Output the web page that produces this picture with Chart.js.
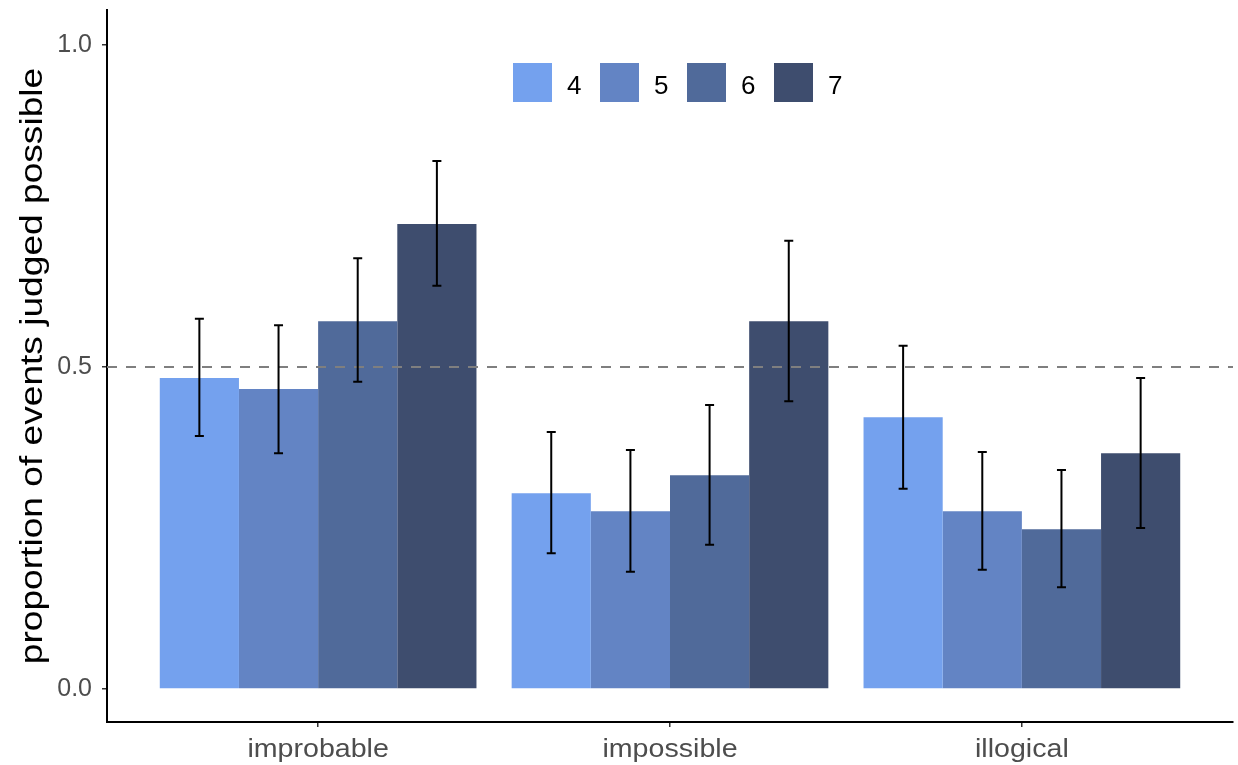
<!DOCTYPE html>
<html>
<head>
<meta charset="utf-8">
<script src="https://cdn.jsdelivr.net/npm/chart.js@4/dist/chart.umd.min.js"></script>
<style>
html,body{margin:0;padding:0;background:#fff;}
#wrap{width:1238px;height:765px;position:relative;}
</style>
</head>
<body>
<div id="wrap"><canvas id="c" width="1238" height="765"></canvas></div>
<script>
const categories = ['improbable', 'impossible', 'illogical'];
const seriesNames = ['4', '5', '6', '7'];
const colors = ['#74a1ee', '#6384c4', '#506a9a', '#3e4d6e'];
const means4 = [0.483, 0.304, 0.422];
const means5 = [0.466, 0.276, 0.276];
const means6 = [0.571, 0.332, 0.248];
const means7 = [0.722, 0.571, 0.366];
const lower4 = [0.393, 0.211, 0.311];
const lower5 = [0.366, 0.182, 0.185];
const lower6 = [0.477, 0.224, 0.158];
const lower7 = [0.626, 0.447, 0.250];
const upper4 = [0.575, 0.399, 0.533];
const upper5 = [0.565, 0.371, 0.368];
const upper6 = [0.669, 0.441, 0.340];
const upper7 = [0.820, 0.696, 0.483];
const yTicks = [0, 0.5, 1.0];
const refLine = 0.5;
const yTitle = 'proportion of events judged possible';

const means = [means4, means5, means6, means7];
const lowers = [lower4, lower5, lower6, lower7];
const uppers = [upper4, upper5, upper6, upper7];
const FONT = '"Liberation Sans", Arial, sans-serif';

const datasets = seriesNames.map((n, i) => ({
  label: n,
  data: categories.map((c, j) => ({x: j + 1, y: means[i][j]})),
  backgroundColor: colors[i],
  borderWidth: 0,
  categoryPercentage: 0.9,
  barPercentage: 1.0,
  lo: lowers[i],
  hi: uppers[i]
}));

function stretchedText(ctx, text, x, y, sx, rot) {
  ctx.save();
  ctx.translate(x, y);
  if (rot) ctx.rotate(rot);
  ctx.scale(sx, 1);
  ctx.fillText(text, 0, 0);
  ctx.restore();
}

const overlay = {
  id: 'overlay',
  afterDatasetsDraw(chart) {
    const ctx = chart.ctx;
    const ys = chart.scales.y, area = chart.chartArea;
    ctx.save();
    ctx.strokeStyle = '#7f7f7f';
    ctx.lineWidth = 2;
    ctx.setLineDash([10, 9]);
    const yr = ys.getPixelForValue(refLine);
    ctx.beginPath();
    ctx.moveTo(area.left, yr);
    ctx.lineTo(area.right, yr);
    ctx.stroke();
    ctx.restore();
    ctx.save();
    ctx.strokeStyle = '#000';
    ctx.lineWidth = 2;
    chart.data.datasets.forEach((ds, i) => {
      const meta = chart.getDatasetMeta(i);
      meta.data.forEach((el, j) => {
        const x = el.x;
        const y1 = ys.getPixelForValue(ds.lo[j]);
        const y2 = ys.getPixelForValue(ds.hi[j]);
        ctx.beginPath();
        ctx.moveTo(x, y1); ctx.lineTo(x, y2);
        ctx.moveTo(x - 4.5, y1); ctx.lineTo(x + 4.5, y1);
        ctx.moveTo(x - 4.5, y2); ctx.lineTo(x + 4.5, y2);
        ctx.stroke();
      });
    });
    ctx.restore();
  },
  afterDraw(chart) {
    const ctx = chart.ctx;
    const xs = chart.scales.x, area = chart.chartArea;
    ctx.save();
    const startX = 513, top = 63, box = 39, step = 87;
    ctx.font = '26px ' + FONT;
    ctx.textBaseline = 'alphabetic';
    ctx.textAlign = 'left';
    chart.data.datasets.forEach((ds, i) => {
      const x = startX + i * step;
      ctx.fillStyle = ds.backgroundColor;
      ctx.fillRect(x, top, box, box);
      ctx.fillStyle = '#000';
      ctx.fillText(ds.label, x + 54, 94);
    });
    ctx.font = '26px ' + FONT;
    ctx.fillStyle = '#4d4d4d';
    ctx.textAlign = 'center';
    categories.forEach((c, j) => {
      stretchedText(ctx, c, xs.getPixelForValue(j + 1), 757, 1.1, 0);
    });
    ctx.font = '32px ' + FONT;
    ctx.fillStyle = '#000';
    ctx.textAlign = 'center';
    stretchedText(ctx, yTitle, 42, (area.top + area.bottom) / 2, 1.16, -Math.PI / 2);
    ctx.restore();
  }
};

new Chart(document.getElementById('c'), {
  type: 'bar',
  data: { datasets },
  options: {
    responsive: false,
    animation: false,
    devicePixelRatio: 1,
    layout: { padding: { top: 10, right: 5, left: 0, bottom: 0 } },
    plugins: { legend: { display: false }, tooltip: { enabled: false } },
    scales: {
      x: {
        type: 'linear',
        min: 0.4, max: 3.6,
        offset: false,
        afterBuildTicks(s) { s.ticks = categories.map((c, j) => ({ value: j + 1 })); },
        afterFit(s) { s.height = 43; s.paddingLeft = 0; s.paddingRight = 0; },
        ticks: {
          callback: (v) => categories[Math.round(v) - 1],
          color: 'rgba(0,0,0,0)',
          font: { family: FONT, size: 26 },
          autoSkip: false,
          maxRotation: 0
        },
        grid: { display: true, offset: false, drawOnChartArea: false, drawTicks: true, tickLength: 5, color: '#333', lineWidth: 1.5 },
        border: { display: true, color: '#000', width: 2 }
      },
      y: {
        min: -0.0512, max: 1.0543,
        afterBuildTicks(s) { s.ticks = yTicks.map(v => ({ value: v })); },
        afterFit(s) { s.width = 107; s.paddingTop = 0; s.paddingBottom = 0; },
        ticks: {
          callback: (v) => v.toFixed(1),
          font: { family: FONT, size: 25 },
          color: '#4d4d4d',
          padding: 10
        },
        grid: { display: true, drawOnChartArea: false, drawTicks: true, tickLength: 5, color: '#333', lineWidth: 1.5 },
        border: { display: true, color: '#000', width: 2 }
      }
    }
  },
  plugins: [overlay]
});
</script>
</body>
</html>
